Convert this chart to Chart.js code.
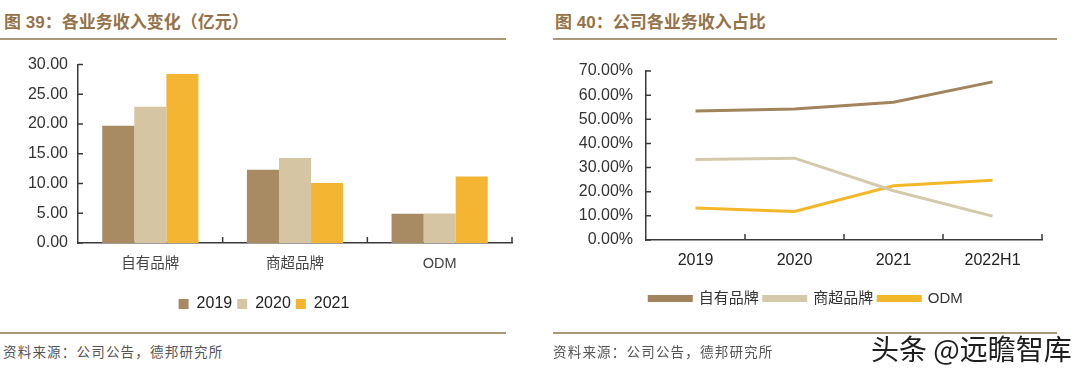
<!DOCTYPE html>
<html>
<head>
<meta charset="utf-8">
<script src="https://cdn.jsdelivr.net/npm/chart.js@4.4.1/dist/chart.umd.min.js"></script>
<style>
  html, body { margin: 0; padding: 0; background: #fff; }
  body { width: 1080px; height: 370px; position: relative; overflow: hidden;
         font-family: 'Liberation Sans', 'Noto Sans CJK SC', sans-serif; }
  .title { position: absolute; top: 8px; font-size: 17px; font-weight: bold; color: #94734a;
           font-family: 'Liberation Sans', 'Noto Sans CJK SC', sans-serif; white-space: nowrap; }
  .rule { position: absolute; height: 2px; background: #a99777; }
  .src { position: absolute; top: 341px; font-size: 13.5px; color: #555; letter-spacing: 1.2px;
         font-family: 'Noto Sans CJK SC', sans-serif; white-space: nowrap; }
  .box { position: absolute; top: 45px; width: 540px; height: 285px; }
  .wm { position: absolute; left: 871px; top: 328px; font-size: 28px; color: #1e1e1e;
        font-family: 'Noto Sans CJK SC', sans-serif; white-space: nowrap;
        text-shadow: -1px -1px 0 #fff, 1px -1px 0 #fff, -1px 1px 0 #fff, 1px 1px 0 #fff, 0 0 2px #fff; }
</style>
</head>
<body>
<div class="title" style="left:4px;">图 39：各业务收入变化（亿元）</div>
<div class="rule" style="left:0px; top:38px; width:506px;"></div>
<div class="title" style="left:555px;">图 40：公司各业务收入占比</div>
<div class="rule" style="left:553px; top:38px; width:504px;"></div>

<div class="box" style="left:0px;"><canvas id="c1"></canvas></div>
<div class="box" style="left:540px;"><canvas id="c2"></canvas></div>

<div class="rule" style="left:0px; top:332px; width:506px;"></div>
<div class="rule" style="left:553px; top:332px; width:504px;"></div>
<div class="src" style="left:3px;">资料来源：公司公告，德邦研究所</div>
<div class="src" style="left:553px;">资料来源：公司公告，德邦研究所</div>
<div class="wm">头条 @远瞻智库</div>

<script>
// ---- Data: chart 1 (revenue, 亿元) ----
const barCategories = ['自有品牌', '商超品牌', 'ODM'];
const barSeriesNames = ['2019', '2020', '2021'];
const rev2019 = [19.7, 12.3, 4.9];
const rev2020 = [22.9, 14.3, 4.95];
const rev2021 = [28.4, 10.1, 11.2];
const barYTicks = { min: 0, max: 30, step: 5 };

// ---- Data: chart 2 (share, %) ----
const lineCategories = ['2019', '2020', '2021', '2022H1'];
const lineSeriesNames = ['自有品牌', '商超品牌', 'ODM'];
const shareOwn = [53.4, 54.3, 57.1, 65.5];
const shareSuper = [33.3, 33.9, 20.4, 9.9];
const shareODM = [13.3, 11.8, 22.5, 24.7];
const lineYTicks = { min: 0, max: 70, step: 10 };

const NUMFONT = "'Liberation Sans', 'Noto Sans CJK SC', sans-serif";
const AXIS = '#3a3a3a';

// Inner tick marks plugin, positions from the library's scales
const innerTicks = {
  id: 'innerTicks',
  afterDatasetsDraw(chart) {
    const ctx = chart.ctx;
    const x = chart.scales.x, y = chart.scales.y;
    ctx.save();
    ctx.strokeStyle = AXIS;
    ctx.lineWidth = 1.5;
    ctx.beginPath();
    y.ticks.forEach((t, i) => {
      const py = y.getPixelForTick(i);
      ctx.moveTo(y.right, py); ctx.lineTo(y.right + 5, py);
    });
    const n = x.ticks.length;
    for (let i = 1; i <= n; i++) {
      const px = x.left + (x.right - x.left) * i / n;
      ctx.moveTo(px, x.top); ctx.lineTo(px, x.top - 6);
    }
    ctx.stroke();
    ctx.restore();
  }
};

const barColors = ['#a88a63', '#d6c5a3', '#f4b632'];
new Chart(document.getElementById('c1'), {
  type: 'bar',
  data: {
    labels: barCategories,
    datasets: [rev2019, rev2020, rev2021].map((d, i) => ({
      label: barSeriesNames[i], data: d, backgroundColor: barColors[i], borderWidth: 0,
      categoryPercentage: 0.665, barPercentage: 1.0
    }))
  },
  options: {
    responsive: true, maintainAspectRatio: false, animation: false,
    layout: { padding: { left: 16, right: 28, top: 17, bottom: 8 } },
    plugins: {
      tooltip: { enabled: false },
      legend: {
        position: 'bottom',
        labels: { boxWidth: 10, boxHeight: 10, padding: 5, color: '#222',
                  font: { family: NUMFONT, size: 16 } }
      }
    },
    scales: {
      x: {
        grid: { display: false, drawTicks: false },
        border: { display: true, color: AXIS, width: 1.5 },
        ticks: { padding: 12, color: '#444', font: { family: NUMFONT, size: 14.5 } },
        afterFit: s => { s.height = 48; }
      },
      y: {
        min: barYTicks.min, max: barYTicks.max,
        grid: { display: false, drawTicks: false },
        border: { display: true, color: AXIS, width: 1.5 },
        ticks: { stepSize: barYTicks.step, padding: 10, color: '#333',
                 font: { family: NUMFONT, size: 16 },
                 callback: v => Number(v).toFixed(2) },
        afterFit: s => { s.width = 62; }
      }
    }
  },
  plugins: [innerTicks]
});

const lineColors = ['#a1845d', '#d4c9ab', '#f2b82a'];
new Chart(document.getElementById('c2'), {
  type: 'line',
  data: {
    labels: lineCategories,
    datasets: [shareOwn, shareSuper, shareODM].map((d, i) => ({
      label: lineSeriesNames[i], data: d, borderColor: lineColors[i], backgroundColor: lineColors[i],
      borderWidth: 3, pointRadius: 0, tension: 0, fill: false
    }))
  },
  options: {
    responsive: true, maintainAspectRatio: false, animation: false,
    layout: { padding: { left: 30, right: 38, top: 26, bottom: 14 } },
    plugins: {
      tooltip: { enabled: false },
      legend: {
        position: 'bottom',
        labels: { boxWidth: 42, boxHeight: 4, padding: 5, color: '#333',
                  font: { family: NUMFONT, size: 15 } }
      }
    },
    scales: {
      x: {
        offset: true,
        grid: { display: false, drawTicks: false, offset: true },
        border: { display: true, color: AXIS, width: 1.5 },
        ticks: { padding: 11, color: '#222', font: { family: NUMFONT, size: 16 } },
        afterFit: s => { s.height = 46; }
      },
      y: {
        min: lineYTicks.min, max: lineYTicks.max,
        grid: { display: false, drawTicks: false },
        border: { display: true, color: AXIS, width: 1.5 },
        ticks: { stepSize: lineYTicks.step, padding: 13, color: '#333',
                 font: { family: NUMFONT, size: 16 },
                 callback: v => Number(v).toFixed(2) + '%' },
        afterFit: s => { s.width = 76; }
      }
    }
  },
  plugins: [innerTicks]
});
</script>
</body>
</html>
